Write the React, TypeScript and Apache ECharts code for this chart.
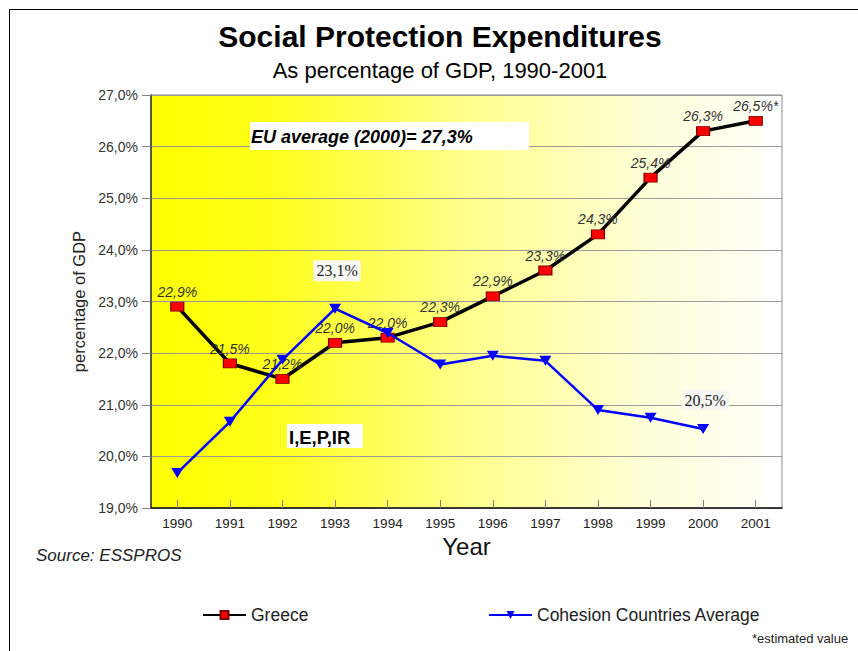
import React, { useEffect, useRef } from "react";
import * as echarts from "echarts";

const years = ["1990", "1991", "1992", "1993", "1994", "1995", "1996", "1997", "1998", "1999", "2000", "2001"];
const greeceValues = [22.9, 21.8, 21.5, 22.2, 22.3, 22.6, 23.1, 23.6, 24.3, 25.4, 26.3, 26.5];
const greeceLabels = ["22,9%", "21,5%", "21,2%", "22,0%", "22,0%", "22,3%", "22,9%", "23,3%", "24,3%", "25,4%", "26,3%", "26,5%*"];
const cohesionValues = [19.68, 20.67, 21.87, 22.86, 22.39, 21.78, 21.95, 21.85, 20.9, 20.75, 20.53, null];
const cohesionLabels = ["", "", "", "23,1%", "", "", "", "", "", "", "20,5%", ""];
const cohesionLabelOffsets = [0, 0, 0, 38, 0, 0, 0, 0, 0, 0, 29, 0];
const yMin = 19;
const yMax = 27;

const FONT = "'Liberation Sans', Arial, sans-serif";

export default function App() {
  const ref = useRef<HTMLDivElement>(null);
  useEffect(() => {
    if (!ref.current) return;
    const chart = echarts.init(ref.current, null, { renderer: "svg" });
    const cohesionData = cohesionValues.map((v, i) => {
      const item: any = { value: v };
      if (cohesionLabels[i]) {
        item.label = {
          show: true,
          formatter: cohesionLabels[i],
          position: "inside",
          offset: [2, -cohesionLabelOffsets[i]],
          fontFamily: "'Liberation Serif', 'Times New Roman', serif",
          fontSize: 16,
          color: "#222",
          backgroundColor: "#f6f6f2",
          padding: [3, 3, 2, 3],
        };
      }
      return item;
    });
    chart.setOption({
      animation: false,
      backgroundColor: "#ffffff",
      textStyle: { fontFamily: FONT },
      grid: {
        left: 151,
        top: 95,
        right: 76,
        bottom: 143,
        show: true,
        borderColor: "#8a8a8a",
        borderWidth: 1,
        backgroundColor: {
          type: "linear",
          x: 0,
          y: 0,
          x2: 1,
          y2: 0,
          colorStops: [
            { offset: 0, color: "#ffff00" },
            { offset: 0.18, color: "#ffff18" },
            { offset: 0.5, color: "#ffff8c" },
            { offset: 0.8, color: "#ffffdc" },
            { offset: 0.965, color: "#fffff4" },
            { offset: 0.97, color: "#ffffff" },
            { offset: 1, color: "#ffffff" },
          ],
        },
      },
      xAxis: {
        type: "category",
        data: years,
        boundaryGap: true,
        name: "Year",
        nameLocation: "middle",
        nameGap: 26,
        nameTextStyle: { fontSize: 24, color: "#111", fontFamily: FONT },
        axisLine: { lineStyle: { color: "#111", width: 1.5 } },
        axisTick: { show: true, inside: true, length: 8, alignWithLabel: true, lineStyle: { color: "#808080" } },
        axisLabel: { fontSize: 13.5, color: "#222", margin: 8, fontFamily: FONT },
        splitLine: { show: false },
      },
      yAxis: {
        type: "value",
        min: yMin,
        max: yMax,
        interval: 1,
        name: "percentage of GDP",
        nameLocation: "middle",
        nameGap: 54,
        nameTextStyle: { fontSize: 16.5, color: "#222", fontFamily: FONT },
        axisLine: { show: true, lineStyle: { color: "#333", width: 1.5 } },
        axisTick: { show: true, length: 9, lineStyle: { color: "#808080" } },
        axisLabel: {
          fontSize: 14,
          color: "#333",
          margin: 13,
          fontFamily: FONT,
          formatter: (v: number) => v.toFixed(1).replace(".", ",") + "%",
        },
        splitLine: { show: true, lineStyle: { color: "#9a9a9a", width: 1.2 } },
      },
      legend: [
        {
          data: ["Greece"],
          left: 197,
          top: 601,
          itemWidth: 43,
          itemHeight: 10,
          itemGap: 8,
          textStyle: { fontSize: 17.5, color: "#222", fontFamily: FONT },
        },
        {
          data: ["Cohesion Countries Average"],
          left: 483,
          top: 601,
          itemWidth: 43,
          itemHeight: 10,
          textStyle: { fontSize: 17.5, color: "#222", fontFamily: FONT },
        },
      ],
      series: [
        {
          name: "Greece",
          type: "line",
          data: greeceValues,
          symbol: "rect",
          symbolSize: [13, 9],
          lineStyle: { color: "#000", width: 3.5 },
          itemStyle: { color: "#ff0000", borderColor: "#7a0000", borderWidth: 1 },
          label: {
            show: true,
            position: "top",
            distance: 3,
            fontSize: 14,
            fontStyle: "italic",
            color: "#333",
            fontFamily: FONT,
            formatter: (p: any) => greeceLabels[p.dataIndex],
          },
          z: 2,
        },
        {
          name: "Cohesion Countries Average",
          type: "line",
          data: cohesionData,
          symbol: "triangle",
          symbolRotate: 180,
          symbolSize: [12, 10],
          lineStyle: { color: "#0000ff", width: 2.5 },
          itemStyle: { color: "#0000ff" },
          label: { show: false },
          z: 3,
        },
      ],
      graphic: [
        {
          type: "rect",
          left: 7,
          top: 7,
          shape: { x: 0, y: 0, width: 900, height: 700 },
          style: { fill: "none", stroke: "#000", lineWidth: 1 },
          silent: true,
          z: -10,
        },
        {
          type: "text",
          x: 440,
          y: 36,
          style: {
            text: "Social Protection Expenditures",
            font: "bold 30px " + FONT,
            fill: "#000",
            textAlign: "center",
            textVerticalAlign: "middle",
          },
        },
        {
          type: "text",
          x: 440,
          y: 70,
          style: {
            text: "As percentage of GDP, 1990-2001",
            font: "22px " + FONT,
            fill: "#000",
            textAlign: "center",
            textVerticalAlign: "middle",
          },
        },
        {
          type: "rect",
          shape: { x: 250, y: 122, width: 279, height: 28 },
          style: { fill: "#ffffff" },
          z: 50,
        },
        {
          type: "text",
          x: 251,
          y: 137,
          z: 51,
          style: {
            text: "EU average (2000)= 27,3%",
            font: "italic bold 18px " + FONT,
            fill: "#000",
            textVerticalAlign: "middle",
          },
        },
        {
          type: "rect",
          shape: { x: 287, y: 424, width: 76, height: 24 },
          style: { fill: "#ffffff" },
          z: 50,
        },
        {
          type: "text",
          x: 289,
          y: 437,
          z: 51,
          style: {
            text: "I,E,P,IR",
            font: "bold 18.5px " + FONT,
            fill: "#000",
            textVerticalAlign: "middle",
          },
        },
        {
          type: "text",
          x: 36,
          y: 555,
          style: {
            text: "Source: ESSPROS",
            font: "italic 17px " + FONT,
            fill: "#222",
            textVerticalAlign: "middle",
          },
        },
        {
          type: "text",
          x: 752,
          y: 638,
          style: {
            text: "*estimated value",
            font: "13px " + FONT,
            fill: "#222",
            textVerticalAlign: "middle",
          },
        },
      ],
    });
    return () => chart.dispose();
  }, []);
  return <div ref={ref} style={{ width: 858, height: 651, position: "absolute", left: 0, top: 0 }} />;
}
